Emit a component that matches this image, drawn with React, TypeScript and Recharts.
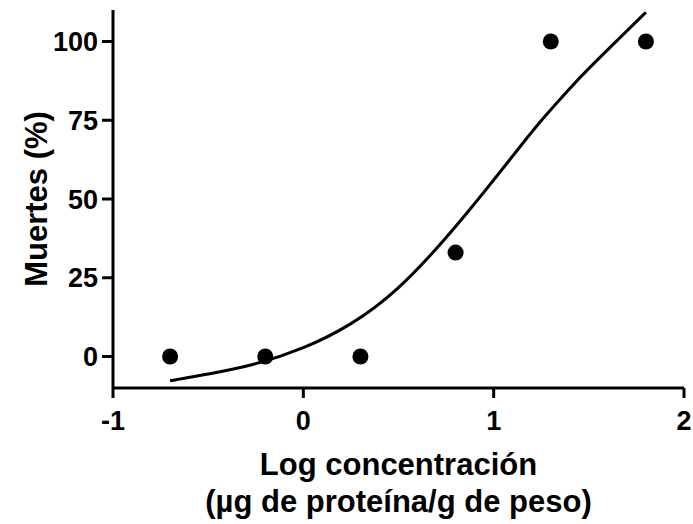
import React from "react";
import { ComposedChart, Label, Line, Scatter, XAxis, YAxis } from "recharts";

// observed mortality at each log dose
const doseLog = [-0.7, -0.2, 0.3, 0.8, 1.3, 1.8];
const deaths = [0, 0, 0, 33, 100, 100];

// fitted dose-response curve, sampled along x
const fitX = [-0.7, -0.5, -0.25, 0, 0.25, 0.5, 0.75, 0.9, 1.0, 1.15, 1.25, 1.4, 1.5, 1.65, 1.8];
const fitY = [-7.7, -5.6, -2.6, 2.4, 9.8, 21.0, 37.5, 48.5, 56.0, 67.5, 75.0, 85.2, 91.5, 100.4, 109.3];

const xTicks = [-1, 0, 1, 2];
const yTicks = [0, 25, 50, 75, 100];

const points = doseLog.map((x, i) => ({ x, y: deaths[i] }));
const curve = fitX.map((x, i) => ({ x, y: fitY[i] }));

const FONT = "'Liberation Sans', Arial, Helvetica, sans-serif";
const tickStyle = { fill: "#000", fontSize: 27, fontWeight: 700, fontFamily: FONT };

const Dot = (props: any) => <circle cx={props.cx} cy={props.cy} r={8} fill="#000" />;

const XTitle = (props: any) => {
  const { x, y, width } = props.viewBox;
  const cx = x + width / 2;
  return (
    <text textAnchor="middle" fontFamily={FONT} fontSize={31} fontWeight={700} fill="#000">
      <tspan x={cx} y={y + 87}>Log concentración</tspan>
      <tspan x={cx} y={y + 124}>(µg de proteína/g de peso)</tspan>
    </text>
  );
};

const YTitle = (props: any) => {
  const { y, height } = props.viewBox;
  const cy = y + height / 2;
  return (
    <text
      x={47}
      y={cy}
      transform={`rotate(-90, 47, ${cy})`}
      textAnchor="middle"
      fontFamily={FONT}
      fontSize={31}
      fontWeight={700}
      fill="#000"
    >
      Muertes (%)
    </text>
  );
};

export default function App() {
  return (
    <div style={{ position: "absolute", left: 0, top: 0, width: 693, height: 524, background: "#fff" }}>
      <ComposedChart width={693} height={524} margin={{ top: 10, right: 9, left: 0, bottom: 0 }}>
        <XAxis
          type="number"
          dataKey="x"
          domain={[-1, 2]}
          ticks={xTicks}
          allowDataOverflow
          height={136}
          axisLine={{ stroke: "#000", strokeWidth: 3 }}
          tickLine={{ stroke: "#000", strokeWidth: 3 }}
          tickSize={10}
          tickMargin={13}
          tick={tickStyle}
        >
          <Label content={XTitle} />
        </XAxis>
        <YAxis
          type="number"
          dataKey="y"
          domain={[-10, 110]}
          ticks={yTicks}
          allowDataOverflow
          width={113}
          axisLine={{ stroke: "#000", strokeWidth: 3 }}
          tickLine={{ stroke: "#000", strokeWidth: 3 }}
          tickSize={11}
          tickMargin={4}
          tick={tickStyle}
        >
          <Label content={YTitle} />
        </YAxis>
        <Line
          data={curve}
          dataKey="y"
          type="basis"
          stroke="#000"
          strokeWidth={3}
          dot={false}
          activeDot={false}
          isAnimationActive={false}
        />
        <Scatter data={points} dataKey="y" shape={Dot} isAnimationActive={false} />
      </ComposedChart>
    </div>
  );
}
